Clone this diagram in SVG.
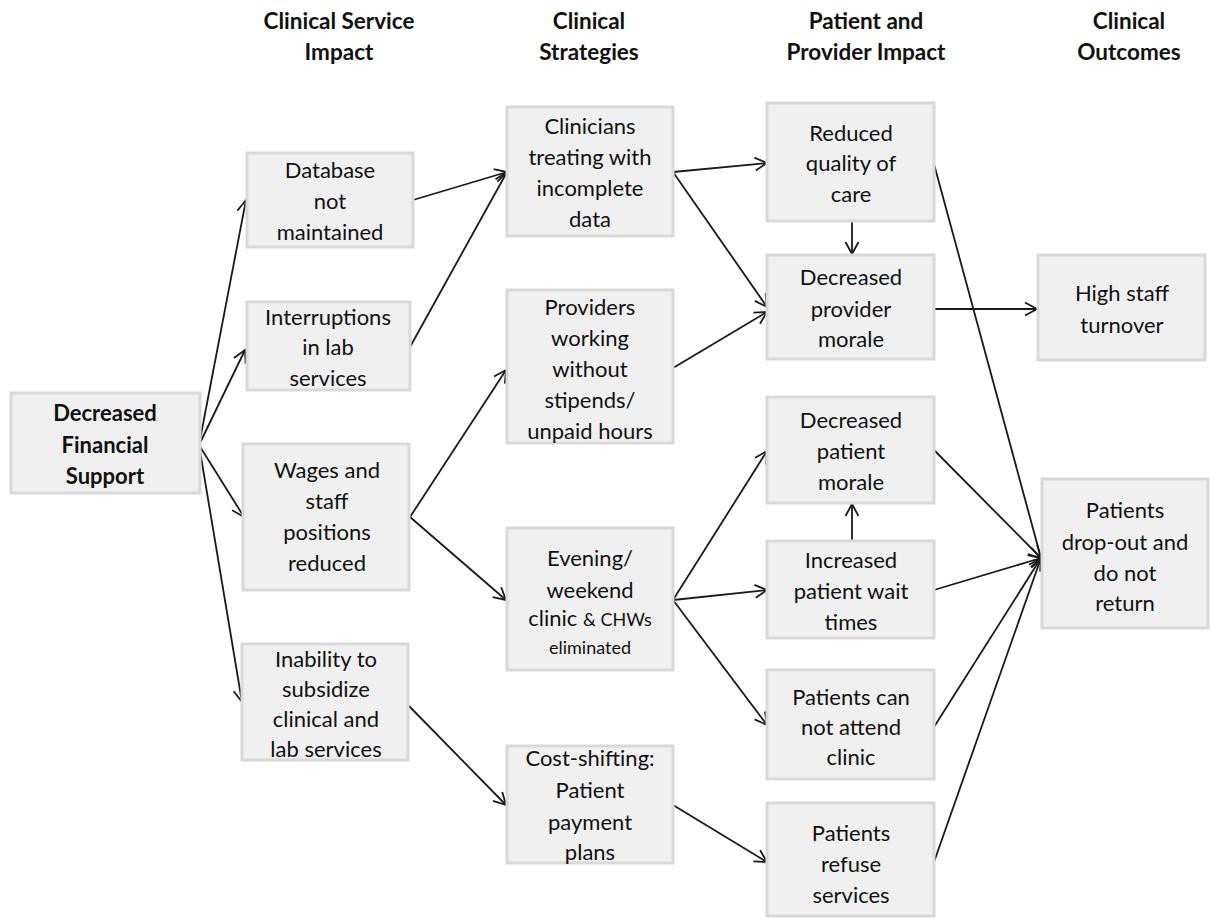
<svg xmlns="http://www.w3.org/2000/svg" width="1213" height="919" viewBox="0 0 1213 919">
<style>
.box{fill:#f0f0f0;stroke:#d9d9d9;stroke-width:3}
.t{font-family:Lato,"Open Sans","Liberation Sans",sans-serif;font-size:22px;fill:#111;text-anchor:middle}
.s{font-size:18px}
.b{font-weight:bold}
.h{font-family:Lato,"Liberation Sans",sans-serif;font-size:22.5px;font-weight:bold;fill:#111;text-anchor:middle}
.c{fill:none;stroke:#1a1a1a;stroke-width:1.8;marker-end:url(#ah)}
</style>
<defs>
<marker id="ah" markerUnits="userSpaceOnUse" markerWidth="16" markerHeight="16" viewBox="0 0 16 16" refX="14" refY="8" orient="auto">
<path d="M2,1.5 L14,8 L2,14.5" fill="none" stroke="#1a1a1a" stroke-width="1.8"/>
</marker>
</defs>
<rect width="1213" height="919" fill="#fff"/>
<g id="headers">
<text class="h" x="339" y="29">Clinical Service</text>
<text class="h" x="339" y="60">Impact</text>
<text class="h" x="589" y="29">Clinical</text>
<text class="h" x="589" y="60">Strategies</text>
<text class="h" x="866" y="29">Patient and</text>
<text class="h" x="866" y="60">Provider Impact</text>
<text class="h" x="1129" y="29">Clinical</text>
<text class="h" x="1129" y="60">Outcomes</text>
</g>
<g id="connectors">
<line class="c" x1="199" y1="445" x2="246" y2="200"/>
<line class="c" x1="199" y1="445" x2="245" y2="350"/>
<line class="c" x1="199" y1="445" x2="244" y2="517"/>
<line class="c" x1="199" y1="445" x2="242" y2="702"/>
<line class="c" x1="413" y1="200" x2="507" y2="172"/>
<line class="c" x1="410" y1="347" x2="507" y2="172"/>
<line class="c" x1="410" y1="517" x2="506" y2="370"/>
<line class="c" x1="410" y1="517" x2="506" y2="600"/>
<line class="c" x1="408" y1="705" x2="506" y2="805"/>
<line class="c" x1="673" y1="172" x2="767" y2="163"/>
<line class="c" x1="673" y1="172" x2="767" y2="307"/>
<line class="c" x1="673" y1="368" x2="767" y2="312"/>
<line class="c" x1="852" y1="222" x2="852" y2="254"/>
<line class="c" x1="934" y1="309" x2="1037" y2="309"/>
<line class="c" x1="934" y1="164" x2="1041" y2="558"/>
<line class="c" x1="673" y1="600" x2="767" y2="451"/>
<line class="c" x1="673" y1="600" x2="767" y2="590"/>
<line class="c" x1="673" y1="600" x2="767" y2="725"/>
<line class="c" x1="852" y1="540" x2="852" y2="504"/>
<line class="c" x1="934" y1="450" x2="1041" y2="558"/>
<line class="c" x1="934" y1="590" x2="1041" y2="558"/>
<line class="c" x1="934" y1="727" x2="1041" y2="558"/>
<line class="c" x1="934" y1="862" x2="1041" y2="558"/>
<line class="c" x1="673" y1="805" x2="767" y2="862"/>
</g>
<g id="n-dfs">
<rect class="box" x="11" y="393" width="189" height="100"/>
<text class="t b" x="105" y="421">Decreased</text>
<text class="t b" x="105" y="453">Financial</text>
<text class="t b" x="105" y="484">Support</text>
</g>
<g id="n-database">
<rect class="box" x="247" y="153" width="166" height="94"/>
<text class="t" x="330" y="178">Database</text>
<text class="t" x="330" y="209">not</text>
<text class="t" x="330" y="240">maintained</text>
</g>
<g id="n-interruptions">
<rect class="box" x="247" y="302" width="163" height="88"/>
<text class="t" x="328" y="325">Interruptions</text>
<text class="t" x="328" y="355">in lab</text>
<text class="t" x="328" y="386">services</text>
</g>
<g id="n-wages">
<rect class="box" x="243" y="444" width="166" height="146"/>
<text class="t" x="327" y="478">Wages and</text>
<text class="t" x="327" y="509">staff</text>
<text class="t" x="327" y="540">positions</text>
<text class="t" x="327" y="571">reduced</text>
</g>
<g id="n-inability">
<rect class="box" x="242" y="644" width="166" height="116"/>
<text class="t" x="326" y="667">Inability to</text>
<text class="t" x="326" y="697">subsidize</text>
<text class="t" x="326" y="727">clinical and</text>
<text class="t" x="326" y="757">lab services</text>
</g>
<g id="n-clinicians">
<rect class="box" x="507" y="107" width="166" height="129"/>
<text class="t" x="590" y="134">Clinicians</text>
<text class="t" x="590" y="165">treating with</text>
<text class="t" x="590" y="196">incomplete</text>
<text class="t" x="590" y="227">data</text>
</g>
<g id="n-providers">
<rect class="box" x="507" y="290" width="166" height="153"/>
<text class="t" x="590" y="315">Providers</text>
<text class="t" x="590" y="346">working</text>
<text class="t" x="590" y="377">without</text>
<text class="t" x="590" y="408">stipends/</text>
<text class="t" x="590" y="439">unpaid  hours</text>
</g>
<g id="n-evening">
<rect class="box" x="507" y="528" width="166" height="142"/>
<text class="t" x="590" y="566">Evening/</text>
<text class="t" x="590" y="598">weekend</text>
<text class="t" x="590" y="626"><tspan>clinic </tspan><tspan class="s">&amp; CHWs</tspan></text>
<text class="t s" x="590" y="654">eliminated</text>
</g>
<g id="n-costshift">
<rect class="box" x="507" y="746" width="166" height="117"/>
<text class="t" x="590" y="766">Cost-shifting:</text>
<text class="t" x="590" y="798">Patient</text>
<text class="t" x="590" y="830">payment</text>
<text class="t" x="590" y="860">plans</text>
</g>
<g id="n-reduced">
<rect class="box" x="767" y="103" width="167" height="118"/>
<text class="t" x="851" y="141">Reduced</text>
<text class="t" x="851" y="171">quality of</text>
<text class="t" x="851" y="202">care</text>
</g>
<g id="n-provmorale">
<rect class="box" x="767" y="255" width="167" height="104"/>
<text class="t" x="851" y="285">Decreased</text>
<text class="t" x="851" y="317">provider</text>
<text class="t" x="851" y="347">morale</text>
</g>
<g id="n-patmorale">
<rect class="box" x="767" y="397" width="167" height="106"/>
<text class="t" x="851" y="428">Decreased</text>
<text class="t" x="851" y="459">patient</text>
<text class="t" x="851" y="490">morale</text>
</g>
<g id="n-wait">
<rect class="box" x="767" y="541" width="167" height="97"/>
<text class="t" x="851" y="568">Increased</text>
<text class="t" x="851" y="599">patient wait</text>
<text class="t" x="851" y="630">times</text>
</g>
<g id="n-attend">
<rect class="box" x="767" y="670" width="167" height="109"/>
<text class="t" x="851" y="705">Patients can</text>
<text class="t" x="851" y="735">not  attend</text>
<text class="t" x="851" y="765">clinic</text>
</g>
<g id="n-refuse">
<rect class="box" x="767" y="803" width="167" height="113"/>
<text class="t" x="851" y="841">Patients</text>
<text class="t" x="851" y="872">refuse</text>
<text class="t" x="851" y="903">services</text>
</g>
<g id="n-turnover">
<rect class="box" x="1038" y="255" width="167" height="105"/>
<text class="t" x="1122" y="301">High staff</text>
<text class="t" x="1122" y="333">turnover</text>
</g>
<g id="n-dropout">
<rect class="box" x="1042" y="479" width="166" height="149"/>
<text class="t" x="1125" y="518">Patients</text>
<text class="t" x="1125" y="550">drop-out  and</text>
<text class="t" x="1125" y="581">do not</text>
<text class="t" x="1125" y="611">return</text>
</g>
</svg>
